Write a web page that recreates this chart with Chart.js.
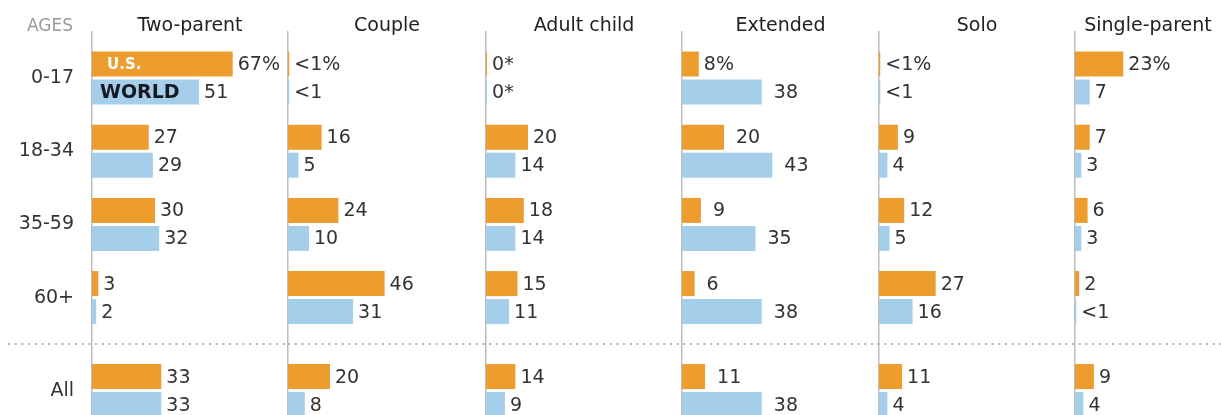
<!DOCTYPE html>
<html>
<head>
<meta charset="utf-8">
<script src="https://cdn.jsdelivr.net/npm/chart.js@4.4.1/dist/chart.umd.min.js"></script>
<style>
    html, body { margin: 0; padding: 0; background: #fff; }
    #wrap { position: relative; width: 1221px; height: 415px; overflow: hidden; }
    #wrap canvas { position: absolute; top: 0; }
</style>
</head>
<body>
<div id="wrap"></div>
<script>
// Row labels and panel titles
const ages = ['0-17', '18-34', '35-59', '60+', 'All'];
const panelTitles = ['Two-parent', 'Couple', 'Adult child', 'Extended', 'Solo', 'Single-parent'];

// Share of people living in each household type (%), U.S. vs world
const usTwoParent = [67, 27, 30, 3, 33];
const worldTwoParent = [51, 29, 32, 2, 33];
const usCouple = [0.6, 16, 24, 46, 20];
const worldCouple = [0.6, 5, 10, 31, 8];
const usAdultChild = [0.5, 20, 18, 15, 14];
const worldAdultChild = [0.5, 14, 14, 11, 9];
const usExtended = [8, 20, 9, 6, 11];
const worldExtended = [38, 43, 35, 38, 38];
const usSolo = [0.6, 9, 12, 27, 11];
const worldSolo = [0.6, 4, 5, 16, 4];
const usSingleParent = [23, 7, 6, 2, 9];
const worldSingleParent = [7, 3, 3, 0.6, 4];

// Printed value labels
const usTwoParentText = ['67%', '27', '30', '3', '33'];
const worldTwoParentText = ['51', '29', '32', '2', '33'];
const usCoupleText = ['<1%', '16', '24', '46', '20'];
const worldCoupleText = ['<1', '5', '10', '31', '8'];
const usAdultChildText = ['0*', '20', '18', '15', '14'];
const worldAdultChildText = ['0*', '14', '14', '11', '9'];
const usExtendedText = ['8%', '20', '9', '6', '11'];
const worldExtendedText = ['38', '43', '35', '38', '38'];
const usSoloText = ['<1%', '9', '12', '27', '11'];
const worldSoloText = ['<1', '4', '5', '16', '4'];
const usSingleParentText = ['23%', '7', '6', '2', '9'];
const worldSingleParentText = ['7', '3', '3', '<1', '4'];

const usValues = [usTwoParent, usCouple, usAdultChild, usExtended, usSolo, usSingleParent];
const worldValues = [worldTwoParent, worldCouple, worldAdultChild, worldExtended, worldSolo, worldSingleParent];
const usTexts = [usTwoParentText, usCoupleText, usAdultChildText, usExtendedText, usSoloText, usSingleParentText];
const worldTexts = [worldTwoParentText, worldCoupleText, worldAdultChildText, worldExtendedText, worldSoloText, worldSingleParentText];

// Layout
const W = 1221, H = 415;
const AXIS_X = [92, 288, 486, 682, 879, 1075];
const PLOT_TOP = 32;
const ROW0_Y = 78;
const ROW_STEP = 73.2;
const ALL_EXTRA = 0.27;      // extra gap before the "All" row
const PX_PER_PCT = 2.1;
const LABEL_PAD = [5, 5, 5, 12, 5, 5];
const US_COLOR = '#ED9C2E';
const WORLD_COLOR = '#A5CEEA';
const FONT = '"DejaVu Sans", sans-serif';

const rowPos = ages.map((a, i) => i === ages.length - 1 ? i + ALL_EXTRA : i);

const wrap = document.getElementById('wrap');

panelTitles.forEach(function (title, p) {
    var left = p === 0 ? 0 : AXIS_X[p] - 2;
    var right = p === panelTitles.length - 1 ? W : AXIS_X[p + 1];
    var axisW = p === 0 ? AXIS_X[0] : 2;
    var canvas = document.createElement('canvas');
    canvas.width = right - left;
    canvas.height = H;
    canvas.style.left = left + 'px';
    wrap.appendChild(canvas);

    var texts = [usTexts[p], worldTexts[p]];

    // labels, titles, separator
    var decor = {
        id: 'decor' + p,
        beforeDatasetsDraw: function (chart) {
            var ctx = chart.ctx, ys = chart.scales.y;
            var sepY = (ys.getPixelForValue(rowPos[3]) + ys.getPixelForValue(rowPos[4])) / 2;
            ctx.save();
            ctx.strokeStyle = '#b3b3b3';
            ctx.lineWidth = 2;
            ctx.setLineDash([2, 4.7]);
            ctx.lineDashOffset = left % 6.7;
            ctx.beginPath();
            ctx.moveTo(p === 0 ? 8 : 0, Math.round(sepY));
            ctx.lineTo(chart.width, Math.round(sepY));
            ctx.stroke();
            ctx.restore();
        },
        afterDatasetsDraw: function (chart) {
            var ctx = chart.ctx, area = chart.chartArea;
            ctx.save();
            ctx.fillStyle = '#222';
            ctx.font = '19px ' + FONT;
            ctx.textAlign = 'center';
            ctx.textBaseline = 'alphabetic';
            ctx.fillText(title, (area.left + area.right) / 2, 31);
            if (p === 0) {
                ctx.fillStyle = '#999';
                ctx.font = '17px ' + FONT;
                ctx.fillText('AGES', 50, 31);
            }

            ctx.textAlign = 'left';
            ctx.textBaseline = 'middle';
            ctx.font = '19px ' + FONT;
            ctx.fillStyle = '#333';
            [0, 1].forEach(function (d) {
                chart.getDatasetMeta(d).data.forEach(function (bar, i) {
                    var pad = (p === 3 && d === 0 && i === 0) ? 5 : LABEL_PAD[p];
                    ctx.fillText(texts[d][i], bar.x + pad, bar.y + 1);
                });
            });

            if (p === 0) {
                var usBar = chart.getDatasetMeta(0).data[0];
                var worldBar = chart.getDatasetMeta(1).data[0];
                ctx.font = 'bold 15px ' + FONT;
                ctx.fillStyle = '#fff';
                ctx.fillText('U.S.', usBar.base + 15, usBar.y + 1);
                ctx.font = 'bold 19px ' + FONT;
                ctx.fillStyle = '#151a22';
                ctx.fillText('WORLD', worldBar.base + 8, worldBar.y + 1);
            }
            ctx.restore();
        }
    };

    new Chart(canvas.getContext('2d'), {
        type: 'bar',
        data: {
            datasets: [{
                label: 'U.S.',
                data: usValues[p].map((v, i) => ({ x: v, y: rowPos[i] })),
                backgroundColor: US_COLOR,
                borderWidth: 0,
                categoryPercentage: 0.765,
                barPercentage: 0.893
            }, {
                label: 'World',
                data: worldValues[p].map((v, i) => ({ x: v, y: rowPos[i] })),
                backgroundColor: WORLD_COLOR,
                borderWidth: 0,
                categoryPercentage: 0.765,
                barPercentage: 0.893
            }]
        },
        options: {
            indexAxis: 'y',
            responsive: false,
            animation: false,
            devicePixelRatio: 1,
            layout: { padding: { top: PLOT_TOP, left: 0, right: 0, bottom: 0 } },
            plugins: {
                legend: { display: false },
                tooltip: { enabled: false }
            },
            scales: {
                x: {
                    type: 'linear',
                    display: false,
                    min: 0,
                    max: (canvas.width - axisW) / PX_PER_PCT
                },
                y: {
                    type: 'linear',
                    reverse: true,
                    offset: false,
                    min: -(ROW0_Y - PLOT_TOP) / ROW_STEP,
                    max: (H - ROW0_Y) / ROW_STEP,
                    grid: { display: false, drawTicks: false },
                    border: { display: true, color: '#bdbdbd', width: 1.5 },
                    afterBuildTicks: function (scale) {
                        scale.ticks = rowPos.map(v => ({ value: v }));
                    },
                    afterFit: function (scale) {
                        scale.width = axisW;
                        scale.paddingTop = 0;
                        scale.paddingBottom = 0;
                    },
                    ticks: {
                        display: p === 0,
                        autoSkip: false,
                        padding: 18,
                        color: '#333',
                        font: { family: FONT, size: 19 },
                        callback: function (value, index) {
                            return ages[index];
                        }
                    }
                }
            }
        },
        plugins: [decor]
    });
});
</script>
</body>
</html>
